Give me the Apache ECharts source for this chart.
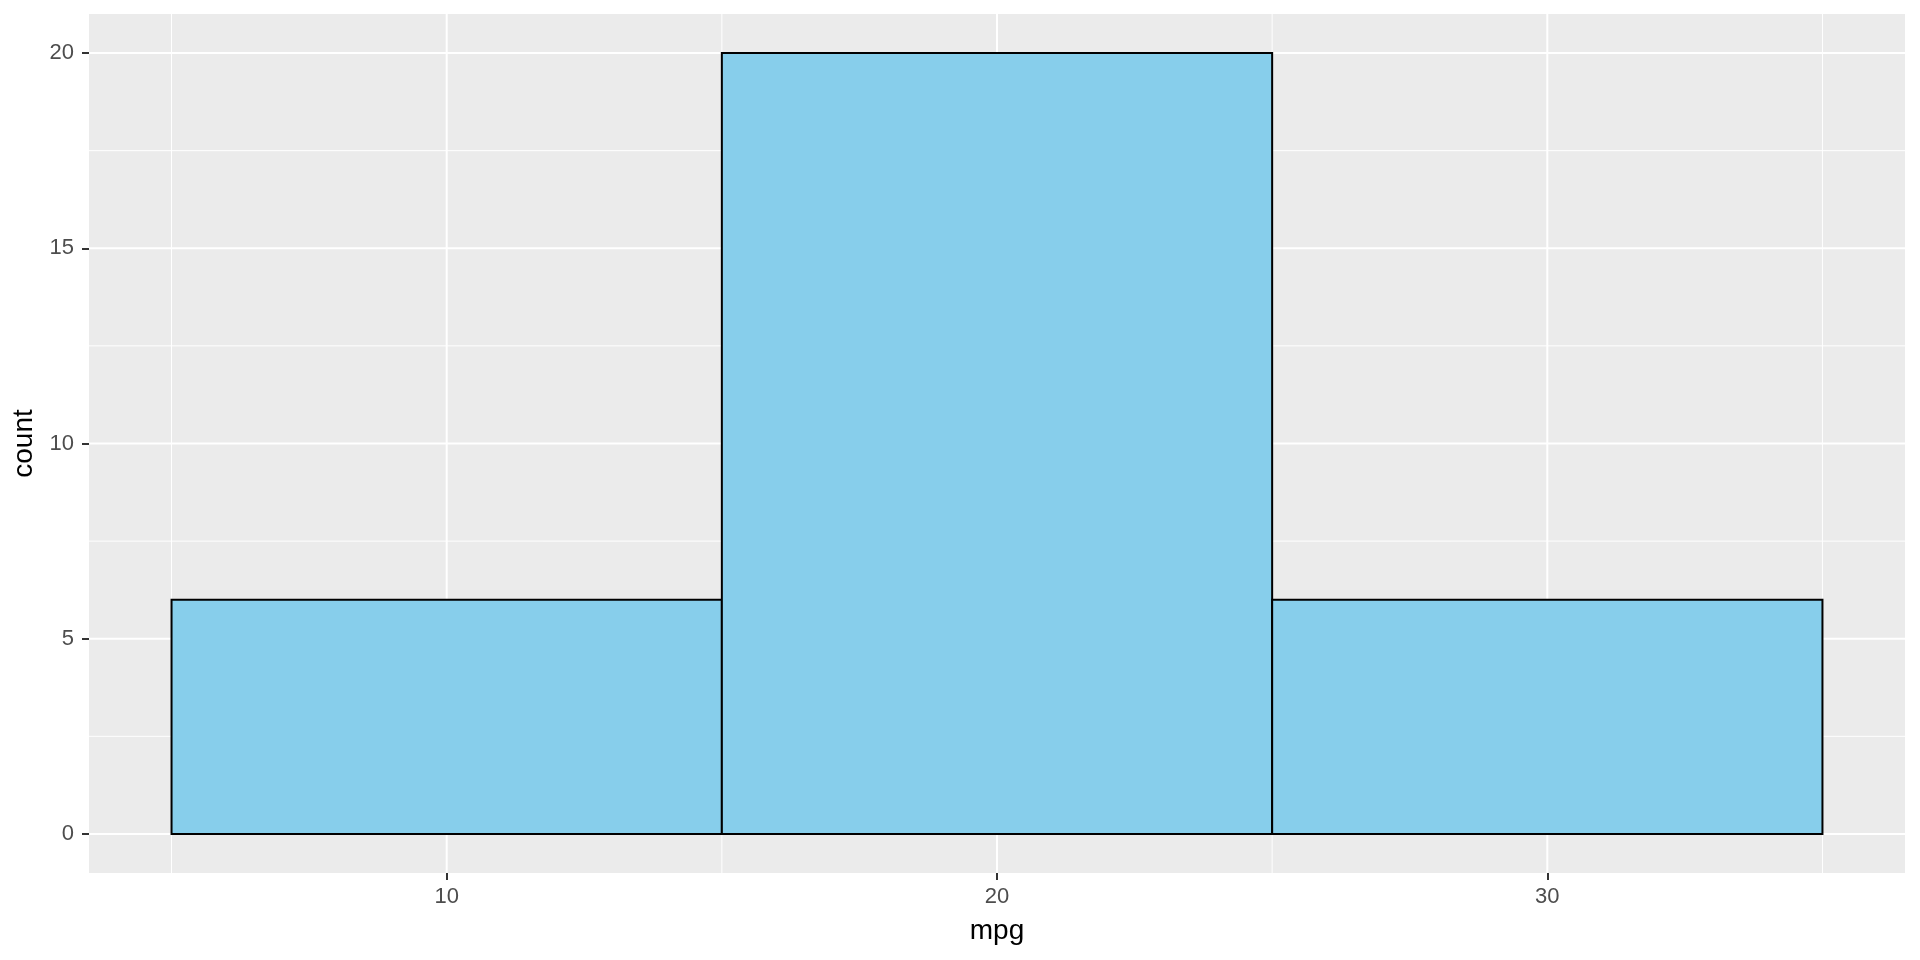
<!DOCTYPE html>
<html>
<head>
<meta charset="utf-8">
<script src="https://cdn.jsdelivr.net/npm/echarts@6/dist/echarts.min.js"></script>
<style>html,body{margin:0;padding:0;background:#fff}#c{width:1920px;height:960px}</style>
</head>
<body>
<div id="c"></div>
<script>
// Histogram bins (mpg)
const binStart = [5, 15, 25];
const binEnd = [15, 25, 35];
const counts = [6, 20, 6];
// Axis ticks
const xTicks = [10, 20, 30];
const xMinor = [5, 15, 25, 35];
const yTicks = [0, 5, 10, 15, 20];
const yMinor = [2.5, 7.5, 12.5, 17.5];
const xRange = [3.5, 36.5];
const yRange = [-1, 21];

const FONT = '"Liberation Sans", Arial, sans-serif';
const chart = echarts.init(document.getElementById('c'), null, {renderer: 'canvas'});

// [value, direction (0 = vertical line at x, 1 = horizontal line at y), width]
const gridLines = [];
xMinor.forEach(v => gridLines.push([v, 0, 1]));
yMinor.forEach(v => gridLines.push([v, 1, 1]));
xTicks.forEach(v => gridLines.push([v, 0, 2]));
yTicks.forEach(v => gridLines.push([v, 1, 2]));

const bars = binStart.map((s, i) => [s, binEnd[i], counts[i]]);

chart.setOption({
  animation: false,
  backgroundColor: '#FFFFFF',
  grid: {left: 89, right: 15, top: 14, bottom: 87, show: true, backgroundColor: '#EBEBEB', borderWidth: 0,
    containLabel: false, outerBoundsMode: 'none'},
  xAxis: {
    type: 'value', min: xRange[0], max: xRange[1],
    name: 'mpg', nameLocation: 'middle', nameGap: 44,
    nameTextStyle: {color: '#000', fontSize: 28, fontFamily: FONT},
    axisLine: {show: false, onZero: false},
    axisTick: {show: true, customValues: xTicks, length: 7, lineStyle: {color: '#333333', width: 2}},
    axisLabel: {customValues: xTicks, color: '#4D4D4D', fontSize: 22, fontFamily: FONT, margin: 13},
    splitLine: {show: false}
  },
  yAxis: {
    type: 'value', min: yRange[0], max: yRange[1],
    name: 'count', nameLocation: 'middle', nameGap: 45, nameRotate: 90,
    nameTextStyle: {color: '#000', fontSize: 28, fontFamily: FONT},
    axisLine: {show: false, onZero: false},
    axisTick: {show: true, customValues: yTicks, length: 7, lineStyle: {color: '#333333', width: 2}},
    axisLabel: {customValues: yTicks, color: '#4D4D4D', fontSize: 22, fontFamily: FONT, margin: 15},
    splitLine: {show: false}
  },
  series: [
    {
      type: 'custom', silent: true, z: 1,
      data: gridLines,
      encode: {x: 0},
      renderItem: function (params, api) {
        const v = api.value(0), dir = api.value(1), w = api.value(2);
        const cs = params.coordSys;
        let shape;
        if (dir === 0) {
          const x = api.coord([v, 0])[0];
          shape = {x1: x, y1: cs.y, x2: x, y2: cs.y + cs.height};
        } else {
          const y = api.coord([xRange[0], v])[1];
          shape = {x1: cs.x, y1: y, x2: cs.x + cs.width, y2: y};
        }
        return {type: 'line', shape: shape, style: {stroke: '#FFFFFF', lineWidth: w}};
      }
    },
    {
      type: 'custom', z: 2,
      data: bars,
      encode: {x: [0, 1], y: 2},
      renderItem: function (params, api) {
        const p0 = api.coord([api.value(0), 0]);
        const p1 = api.coord([api.value(1), api.value(2)]);
        return {type: 'rect', shape: {x: p0[0], y: p1[1], width: p1[0] - p0[0], height: p0[1] - p1[1]},
          style: {fill: '#87CEEB', stroke: '#000000', lineWidth: 2}};
      }
    }
  ]
});
</script>
</body>
</html>
